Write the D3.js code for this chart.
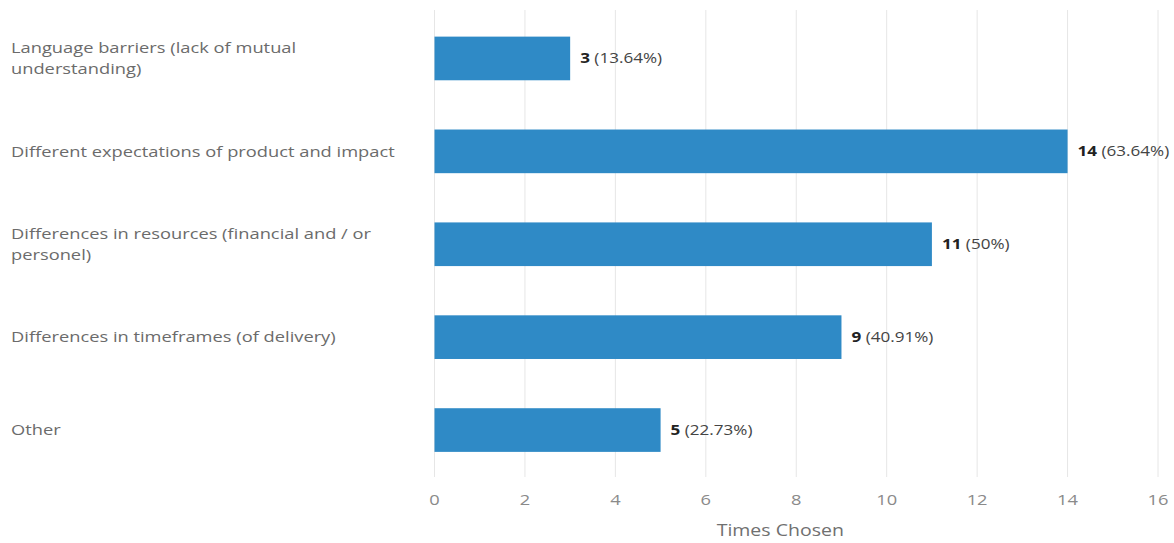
<!DOCTYPE html>
<html>
<head>
<meta charset="utf-8">
<script src="https://cdn.jsdelivr.net/npm/d3@7"></script>
<style>
  html, body { margin: 0; padding: 0; background: #fff; }
  svg { display: block; font-family: "Open Sans", sans-serif; }
</style>
</head>
<body>
<svg id="chart" width="1174" height="543"></svg>
<script>
// Answer options (line breaks mark where the label wraps)
const categories = [
  "Language barriers (lack of mutual\nunderstanding)",
  "Different expectations of product and impact",
  "Differences in resources (financial and / or\npersonel)",
  "Differences in timeframes (of delivery)",
  "Other"
];
const counts = [3, 14, 11, 9, 5];
const percents = ["13.64%", "63.64%", "50%", "40.91%", "22.73%"];
const xTicks = [0, 2, 4, 6, 8, 10, 12, 14, 16];
const axisTitle = "Times Chosen";

const svg = d3.select("#chart");
const plotLeft = 434.5, plotRight = 1158, plotTop = 10, plotBottom = 477;
const SX = 1.22; // wide text rendering

const x = d3.scaleLinear().domain([0, 16]).range([plotLeft, plotRight]);
const y = d3.scaleBand()
  .domain(categories)
  .range([12, 476.5])
  .paddingInner(0.53)
  .paddingOuter(0.265);

const place = (px, py) => `translate(${px},${py}) scale(${SX},1)`;

// vertical gridlines
svg.append("g")
  .selectAll("line")
  .data(xTicks)
  .join("line")
  .attr("x1", d => x(d)).attr("x2", d => x(d))
  .attr("y1", plotTop).attr("y2", plotBottom)
  .attr("stroke", "#e6e6e6")
  .attr("stroke-width", 1);

// x tick labels
svg.append("g")
  .selectAll("text")
  .data(xTicks)
  .join("text")
  .attr("transform", d => place(x(d), 505))
  .attr("text-anchor", "middle")
  .attr("font-size", 15)
  .attr("fill", "#8a8a8a")
  .text(d => d);

svg.append("text")
  .attr("transform", place(x(8) - 16, 536))
  .attr("text-anchor", "middle")
  .attr("font-size", 16)
  .attr("fill", "#707070")
  .text(axisTitle);

// bars
svg.append("g")
  .selectAll("rect")
  .data(categories)
  .join("rect")
  .attr("x", x(0))
  .attr("y", d => y(d))
  .attr("width", (d, i) => x(counts[i]) - x(0))
  .attr("height", y.bandwidth())
  .attr("fill", "#2f8ac6");

// category labels
svg.append("g")
  .selectAll("g")
  .data(categories)
  .join("g")
  .each(function(d) {
    const lines = d.split("\n");
    const cy = y(d) + y.bandwidth() / 2;
    const lh = 21;
    lines.forEach((ln, k) => {
      d3.select(this).append("text")
        .attr("transform", place(11, cy + (k - (lines.length - 1) / 2) * lh))
        .attr("dy", "0.35em")
        .attr("font-size", 15)
        .attr("fill", "#6b6b6b")
        .text(ln);
    });
  });

// value labels
const vl = svg.append("g")
  .selectAll("text")
  .data(categories)
  .join("text")
  .attr("transform", (d, i) => place(x(counts[i]) + 10, y(d) + y.bandwidth() / 2))
  .attr("dy", "0.35em")
  .attr("font-size", 14)
  .attr("fill", "#333");
vl.append("tspan").attr("font-weight", "bold").attr("fill", "#222").text((d, i) => counts[i]);
vl.append("tspan").attr("fill", "#444").text((d, i) => " (" + percents[i] + ")");
</script>
</body>
</html>
